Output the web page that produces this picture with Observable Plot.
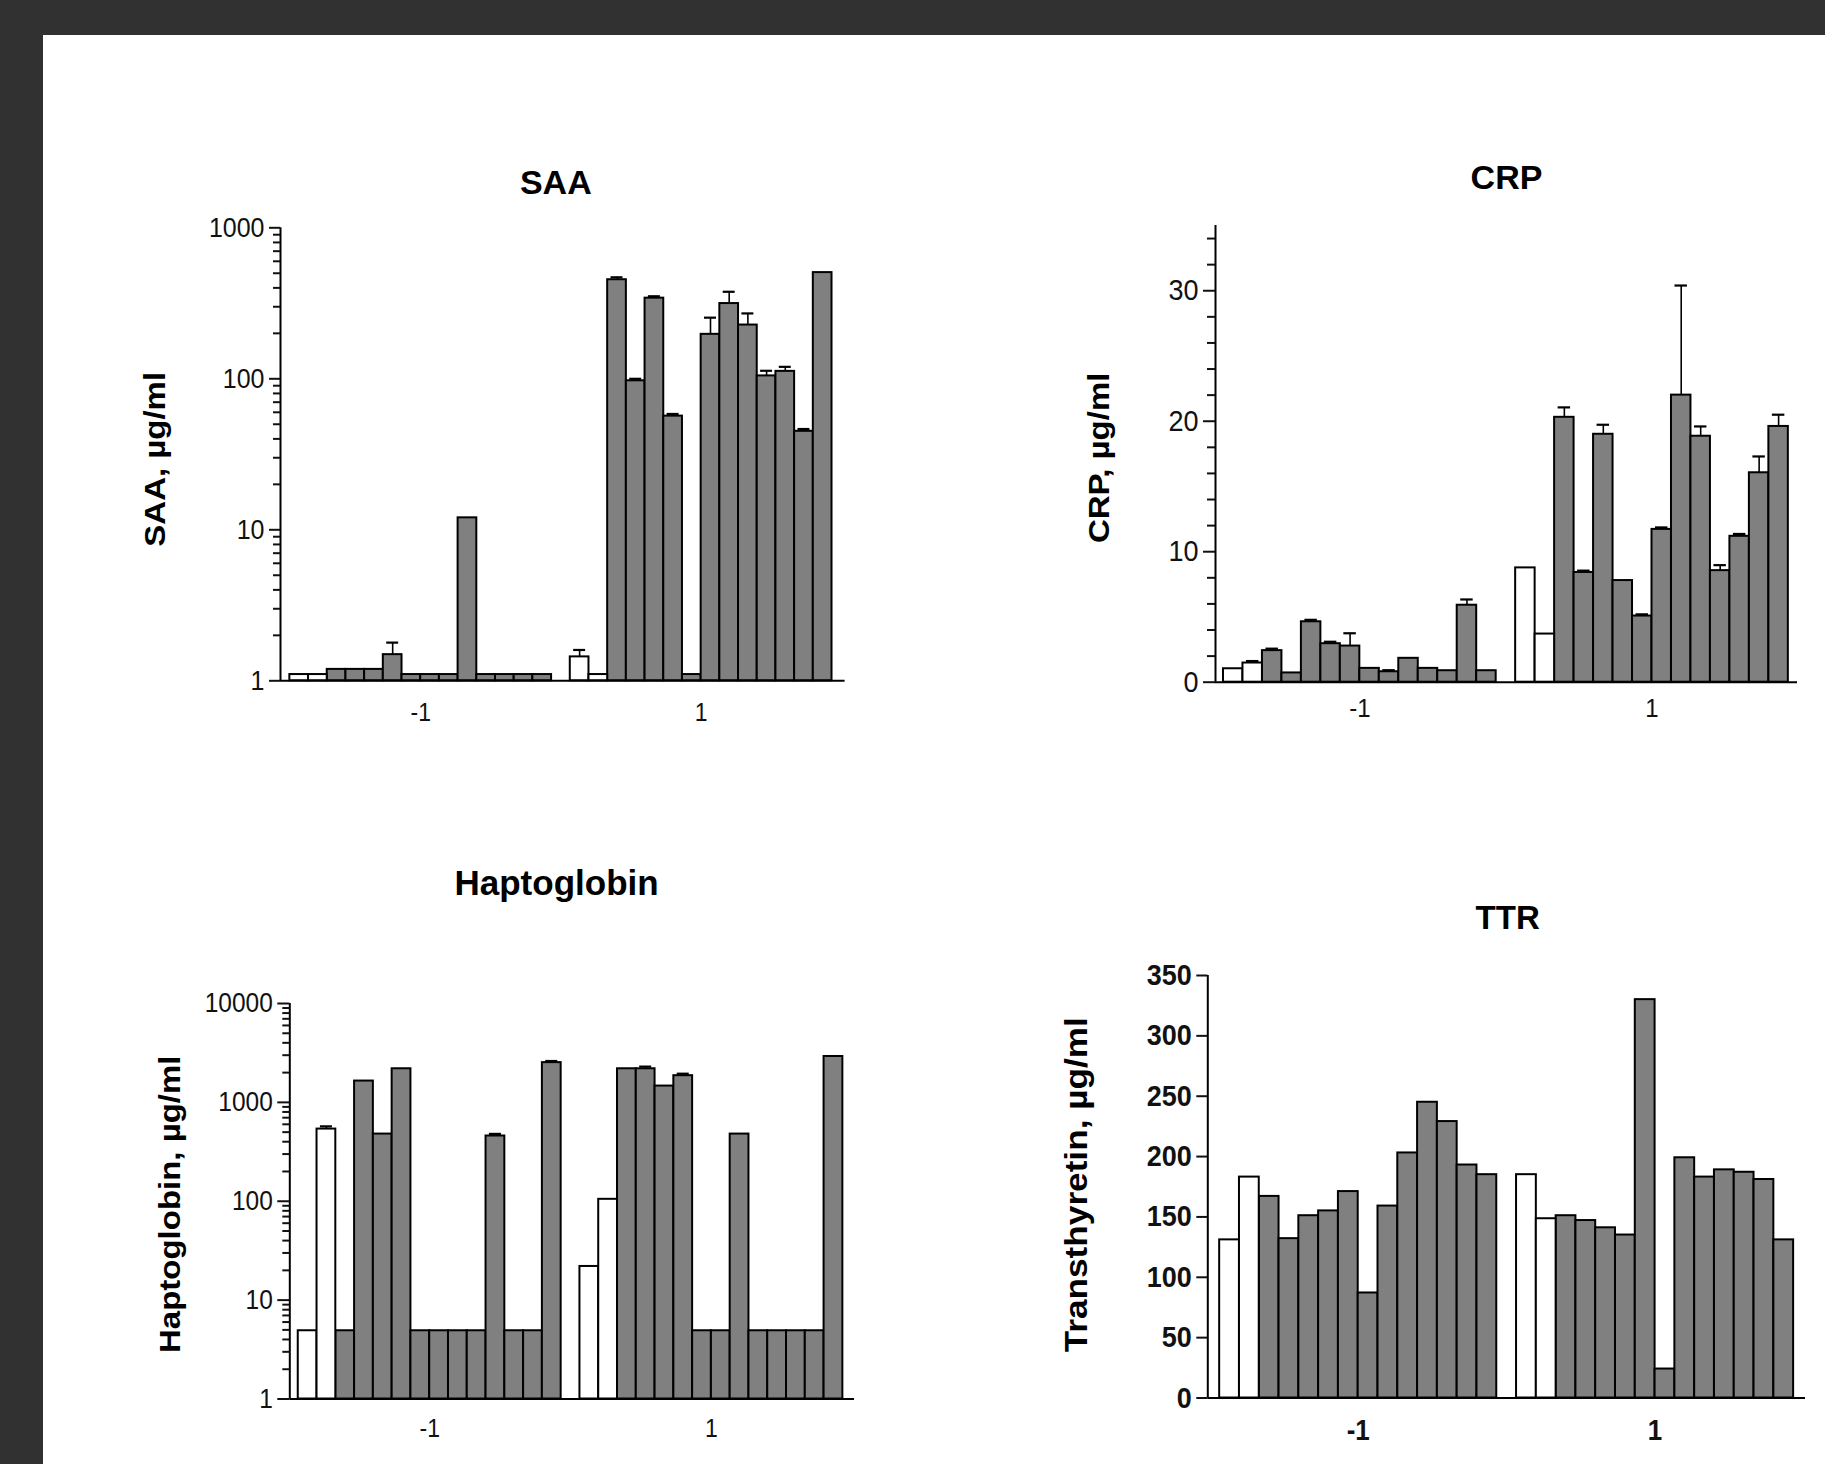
<!DOCTYPE html>
<html>
<head>
<meta charset="utf-8">
<script src="https://cdn.jsdelivr.net/npm/d3@7"></script>
<script src="https://cdn.jsdelivr.net/npm/@observablehq/plot@0.6"></script>
<style>
  html, body { margin: 0; padding: 0; background: #313131; }
  body { width: 1825px; height: 1464px; position: relative; overflow: hidden; }
  #sheet { position: absolute; left: 43px; top: 35px; right: 0; bottom: 0; background: #ffffff; }
  .chart { position: absolute; }
  .chart svg { display: block; max-width: none; }
</style>
</head>
<body>
<div id="sheet"></div>
<div id="saa" class="chart"></div>
<div id="crp" class="chart"></div>
<div id="hapto" class="chart"></div>
<div id="ttr" class="chart"></div>
<script>
// ---------- data (group "-1": first 14 bars, group "1": next 14 bars; first 2 of each group are open bars) ----------
const groups = ["-1", "1"];
const barsPerGroup = 14;
const openBarsPerGroup = 2;

const saaValues = [1.1, 1.1, 1.19, 1.19, 1.19, 1.49, 1.1, 1.1, 1.1, 12.0, 1.1, 1.1, 1.1, 1.1,
                   1.44, 1.1, 453, 97, 342, 56.6, 1.1, 197, 315, 227, 104.5, 112, 44.9, 505];
const saaUpper  = [null, null, null, null, null, 1.79, null, null, null, null, null, null, null, null,
                   1.60, null, 470, 100, 352, 58.5, null, 254, 377, 271, 113, 120, 46.5, null];

const crpValues = [1.03, 1.47, 2.42, 0.71, 4.63, 2.95, 2.77, 1.06, 0.8, 1.83, 1.06, 0.88, 5.9, 0.88,
                   8.76, 3.69, 20.3, 8.41, 19.0, 7.79, 5.07, 11.71, 22.0, 18.85, 8.55, 11.18, 16.05, 19.6];
const crpUpper  = [null, 1.62, 2.57, null, 4.78, 3.1, 3.75, null, 0.92, null, null, null, 6.34, null,
                   null, null, 21.06, 8.55, 19.73, null, 5.2, 11.86, 30.4, 19.6, 8.97, 11.36, 17.3, 20.5];

const haptoValues = [4.9, 537, 4.9, 1643, 478, 2187, 4.9, 4.9, 4.9, 4.9, 457, 4.9, 4.9, 2523,
                     21.9, 104.6, 2187, 2187, 1462, 1862, 4.9, 4.9, 478, 4.9, 4.9, 4.9, 4.9, 2911];
const haptoUpper  = [null, 572, null, null, null, null, null, null, null, null, 480, null, null, 2620,
                     null, null, null, 2300, null, 1950, null, null, null, null, null, null, null, null];

const ttrValues = [131, 183, 167, 132, 151, 155, 171, 87, 159, 203, 245, 229, 193, 185,
                   185, 148.5, 151, 147, 141, 135, 330, 24, 199, 183, 189, 187, 181, 131];

const saaTicks = [1, 10, 100, 1000];
const saaMinor = [2,3,4,5,6,7,8,9,20,30,40,50,60,70,80,90,200,300,400,500,600,700,800,900];
const crpTicks = [0, 10, 20, 30];
const crpMinor = [2,4,6,8,12,14,16,18,22,24,26,28,32,34];
const haptoTicks = [1, 10, 100, 1000, 10000];
const haptoMinor = [2,3,4,5,6,7,8,9,20,30,40,50,60,70,80,90,200,300,400,500,600,700,800,900,
                    2000,3000,4000,5000,6000,7000,8000,9000];
const ttrTicks = [0, 50, 100, 150, 200, 250, 300, 350];

const titles = {saa: "SAA", crp: "CRP", hapto: "Haptoglobin", ttr: "TTR"};
const yLabels = {saa: "SAA, µg/ml", crp: "CRP, µg/ml", hapto: "Haptoglobin, µg/ml", ttr: "Transthyretin, µg/ml"};

// ---------- drawing ----------
const FONT = "'Liberation Sans', Arial, Helvetica, sans-serif";
const GRAY = "#808080";
const TEXT_STRETCH = 1.1; // the source figure's lettering is slightly taller than wide

function buildRows(values, upper) {
  return values.map((v, k) => {
    const g = Math.floor(k / barsPerGroup), i = k % barsPerGroup;
    return {group: groups[g], i, slot: g * (barsPerGroup + 1) + i, value: v,
            upper: upper ? upper[k] : null, open: i < openBarsPerGroup};
  });
}
const groupCenter = gi => gi * (barsPerGroup + 1) + barsPerGroup / 2;

const isPlainNumber = s => s != null && /^\s*-?\d*\.?\d+(e[-+]?\d+)?\s*$/i.test(s);

function stretchText(svg, skip, k) {
  svg.querySelectorAll("text").forEach(t => {
    if (t.textContent === skip || t.textContent === "") return;
    let tr = t.getAttribute("transform") || "";
    const x = t.getAttribute("x"), y = t.getAttribute("y");
    const nx = isPlainNumber(x), ny = isPlainNumber(y);
    if (nx || ny) {
      tr += ` translate(${nx ? +x : 0},${ny ? +y : 0})`;
      if (nx) t.removeAttribute("x");
      if (ny) t.removeAttribute("y");
    }
    const rotated = /rotate\(\s*-?90/.test(tr);
    t.setAttribute("transform", tr + (rotated ? ` scale(${k},1)` : ` scale(1,${k})`));
  });
}

function drawPanel(id, cfg) {
  const rows = buildRows(cfg.values, cfg.upper);
  const errs = rows.filter(d => d.upper != null);
  const base = cfg.yDomain[0];
  const centers = groups.map((g, gi) => groupCenter(gi));
  const labelOf = new Map(groups.map((g, gi) => [groupCenter(gi), g]));
  const bar = {x1: "slot", x2: d => d.slot + 1, y1: base, y2: "value", stroke: "#000", strokeWidth: 2};
  const marks = [
    Plot.rect(rows.filter(d => !d.open), {...bar, fill: GRAY}),
    Plot.rect(rows.filter(d => d.open), {...bar, fill: "#ffffff"}),
    Plot.ruleX(errs, {x: d => d.slot + 0.5, y1: "value", y2: "upper", stroke: "#000", strokeWidth: 1.6}),
    Plot.ruleY(errs, {y: "upper", x1: d => d.slot + 0.18, x2: d => d.slot + 0.82, stroke: "#000", strokeWidth: 2.2}),
    Plot.ruleX([cfg.xDomain[0]], {stroke: "#000", strokeWidth: 2}),
    Plot.ruleY([base], {stroke: "#000", strokeWidth: 2}),
    Plot.axisY(cfg.yTicks, {anchor: "left", label: null, tickSize: cfg.tickSize, tickPadding: cfg.tickPad,
      tickFormat: d => String(d), fontSize: cfg.tickFont, fontWeight: cfg.tickBold ? "bold" : "normal",
      strokeWidth: 2, color: "#111"}),
    Plot.axisX(centers, {anchor: "bottom", label: null, tickSize: 0, tickPadding: cfg.xPad,
      tickFormat: d => labelOf.get(d), fontSize: cfg.xFont, fontWeight: cfg.xBold ? "bold" : "normal", color: "#111"}),
    Plot.text([titles[id]], {text: d => d, frameAnchor: "top", dx: cfg.titleDx, dy: cfg.titleDy,
      lineAnchor: "bottom", fontSize: cfg.titleFont, fontWeight: "bold", fill: "#000"}),
    Plot.text([yLabels[id]], {text: d => d, frameAnchor: "left", rotate: -90, dx: cfg.ylabelDx, dy: cfg.ylabelDy,
      lineAnchor: "bottom", textAnchor: "middle", fontSize: cfg.ylabelFont, fontWeight: "bold", fill: "#000"})
  ];
  if (cfg.yMinor) {
    marks.push(Plot.axisY(cfg.yMinor, {anchor: "left", label: null, tickSize: cfg.minorSize,
      tickFormat: () => "", strokeWidth: 2, color: "#111"}));
  }
  const svg = Plot.plot({
    width: cfg.width, height: cfg.height,
    marginLeft: cfg.mL, marginRight: cfg.mR, marginTop: cfg.mT, marginBottom: cfg.mB,
    style: {fontFamily: FONT, background: "transparent", color: "#000", overflow: "visible"},
    x: {type: "linear", domain: cfg.xDomain, label: null},
    y: {type: cfg.yType, domain: cfg.yDomain, label: null},
    marks
  });
  stretchText(svg, titles[id], TEXT_STRETCH);
  const el = document.getElementById(id);
  el.style.left = cfg.left + "px";
  el.style.top = cfg.top + "px";
  el.style.width = cfg.width + "px";
  el.style.height = cfg.height + "px";
  el.appendChild(svg);
}

drawPanel("saa", {
  values: saaValues, upper: saaUpper,
  left: 100, top: 140, width: 780, height: 600,
  mL: 180, mR: 35.4, mT: 87.3, mB: 59.7,
  xDomain: [-0.5, 29.7], yType: "log", yDomain: [1, 1000],
  yTicks: saaTicks, yMinor: saaMinor, tickSize: 11, minorSize: 7, tickPad: 5, tickFont: 25, tickBold: false,
  xPad: 22, xFont: 23, xBold: false,
  titleFont: 34, titleDx: -7, titleDy: -34,
  ylabelFont: 30, ylabelDx: -116, ylabelDy: 5
});

drawPanel("crp", {
  values: crpValues, upper: crpUpper,
  left: 1040, top: 130, width: 785, height: 600,
  mL: 175, mR: 28, mT: 95, mB: 48.3,
  xDomain: [-0.41, 29.47], yType: "linear", yDomain: [0, 35],
  yTicks: crpTicks, yMinor: crpMinor, tickSize: 12, minorSize: 8, tickPad: 5, tickFont: 27, tickBold: false,
  xPad: 16, xFont: 24, xBold: false,
  titleFont: 34, titleDx: 0, titleDy: -37,
  ylabelFont: 30, ylabelDx: -107, ylabelDy: 4
});

drawPanel("hapto", {
  values: haptoValues, upper: haptoUpper,
  left: 100, top: 840, width: 780, height: 624,
  mL: 189.3, mR: 26, mT: 163, mB: 65.5,
  xDomain: [-0.45, 29.62], yType: "log", yDomain: [1, 10000],
  yTicks: haptoTicks, yMinor: haptoMinor, tickSize: 12, minorSize: 7, tickPad: 5, tickFont: 24.5, tickBold: false,
  xPad: 20, xFont: 23, xBold: false,
  titleFont: 35, titleDx: -15.6, titleDy: -109,
  ylabelFont: 30, ylabelDx: -110.3, ylabelDy: 3
});

drawPanel("ttr", {
  values: ttrValues, upper: null,
  left: 1040, top: 860, width: 785, height: 604,
  mL: 167.3, mR: 20, mT: 115, mB: 66.5,
  xDomain: [-0.6, 29.6], yType: "linear", yDomain: [0, 350],
  yTicks: ttrTicks, yMinor: null, tickSize: 11, minorSize: 0, tickPad: 5, tickFont: 27, tickBold: true,
  xPad: 22, xFont: 26, xBold: true,
  titleFont: 33, titleDx: 1, titleDy: -47,
  ylabelFont: 32, ylabelDx: -121.3, ylabelDy: -2
});
</script>
</body>
</html>
